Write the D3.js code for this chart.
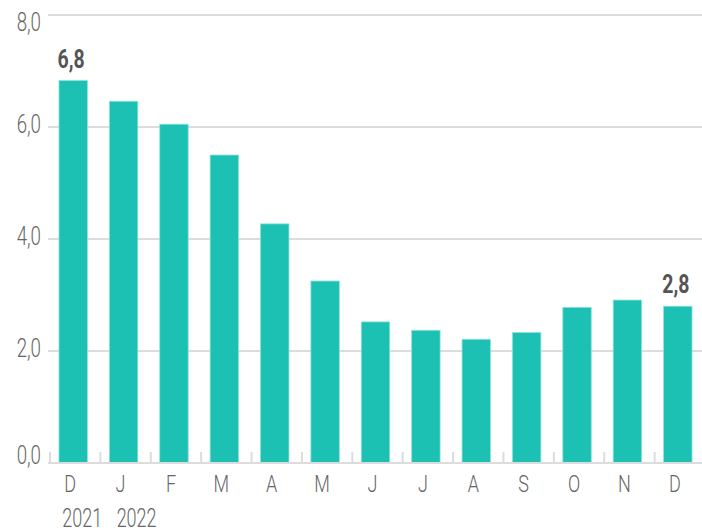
<!DOCTYPE html>
<html>
<head>
<meta charset="utf-8">
<script src="https://cdn.jsdelivr.net/npm/d3@7"></script>
<style>
  html, body { margin: 0; padding: 0; background: #fff; }
  svg { display: block; }
  text { font-family: "Roboto", "DejaVu Sans Condensed", sans-serif; }
</style>
</head>
<body>
<svg id="chart" width="702" height="532"></svg>
<script>
const months = ["D", "J", "F", "M", "A", "M", "J", "J", "A", "S", "O", "N", "D"];
const values = [6.83, 6.46, 6.05, 5.5, 4.27, 3.25, 2.52, 2.37, 2.21, 2.33, 2.78, 2.91, 2.8];
const yearLabels = ["2021", "2022"];
const yTicks = [0, 2, 4, 6, 8];
const highlighted = [0, 12];

const svg = d3.select("#chart");
const plotLeft = 48, plotRight = 702, plotTop = 15, plotBottom = 463;
const SX = 0.72;

const ids = months.map((m, i) => i);
const x = d3.scaleBand().domain(ids).range([plotLeft, 703]).paddingInner(0.435).paddingOuter(0.2175);
const y = d3.scaleLinear().domain([0, 8]).range([plotBottom, plotTop]);
const fmt = v => d3.format(".1f")(v).replace(".", ",");
const place = (px, py, sx) => `translate(${px},${py}) scale(${sx},1)`;

// gridlines
svg.append("g").selectAll("line").data(yTicks.filter(t => t > 0)).join("line")
  .attr("x1", plotLeft).attr("x2", plotRight)
  .attr("y1", d => y(d)).attr("y2", d => y(d))
  .attr("stroke", "#dcdcdc").attr("stroke-width", 2);

// y labels
svg.append("g").selectAll("text").data(yTicks).join("text")
  .attr("transform", d => place(41, Math.min(Math.max(y(d) - 3, 22), 455), SX))
  .attr("dy", "0.36em")
  .attr("text-anchor", "end")
  .attr("font-size", 26)
  .attr("font-weight", 300)
  .attr("fill", "#666")
  .text(d => fmt(d));

// bars
svg.append("g").selectAll("rect").data(values).join("rect")
  .attr("x", (d, i) => x(i))
  .attr("width", x.bandwidth())
  .attr("y", d => y(d))
  .attr("height", d => plotBottom - y(d))
  .attr("fill", "#1dc1b3")
  .attr("stroke", "#8fe3da")
  .attr("stroke-width", 0.8);

// x axis baseline
svg.append("line")
  .attr("x1", plotLeft).attr("x2", plotRight)
  .attr("y1", plotBottom).attr("y2", plotBottom)
  .attr("stroke", "#dcdcdc").attr("stroke-width", 2);

// tick marks at band starts
const gap = x.step() - x.bandwidth();
svg.append("g").selectAll("line").data(ids).join("line")
  .attr("x1", d => x(d) - gap / 2 + 2).attr("x2", d => x(d) - gap / 2 + 2)
  .attr("y1", plotBottom).attr("y2", plotBottom - 11)
  .attr("stroke", "#dcdcdc").attr("stroke-width", 2);

// month labels
svg.append("g").selectAll("text").data(months).join("text")
  .attr("transform", (d, i) => place(x(i) + x.bandwidth() / 2 - 3, 492, 0.75))
  .attr("text-anchor", "middle")
  .attr("font-size", 24)
  .attr("font-weight", 300)
  .attr("fill", "#666")
  .text(d => d);

// year labels
svg.append("g").selectAll("text").data(yearLabels).join("text")
  .attr("transform", (d, i) => place(x(i) + x.bandwidth() / 2 + (i === 0 ? 9 : 13), 527, SX))
  .attr("text-anchor", "middle")
  .attr("font-size", 25)
  .attr("font-weight", 300)
  .attr("fill", "#666")
  .text(d => d);

// value labels
svg.append("g").selectAll("text").data(highlighted).join("text")
  .attr("transform", d => place(x(d) + x.bandwidth() / 2 - 2, y(values[d]) - 13, 0.78))
  .attr("text-anchor", "middle")
  .attr("font-size", 25)
  .attr("font-weight", "bold")
  .attr("fill", "#555")
  .text(d => fmt(values[d]));
</script>
</body>
</html>
